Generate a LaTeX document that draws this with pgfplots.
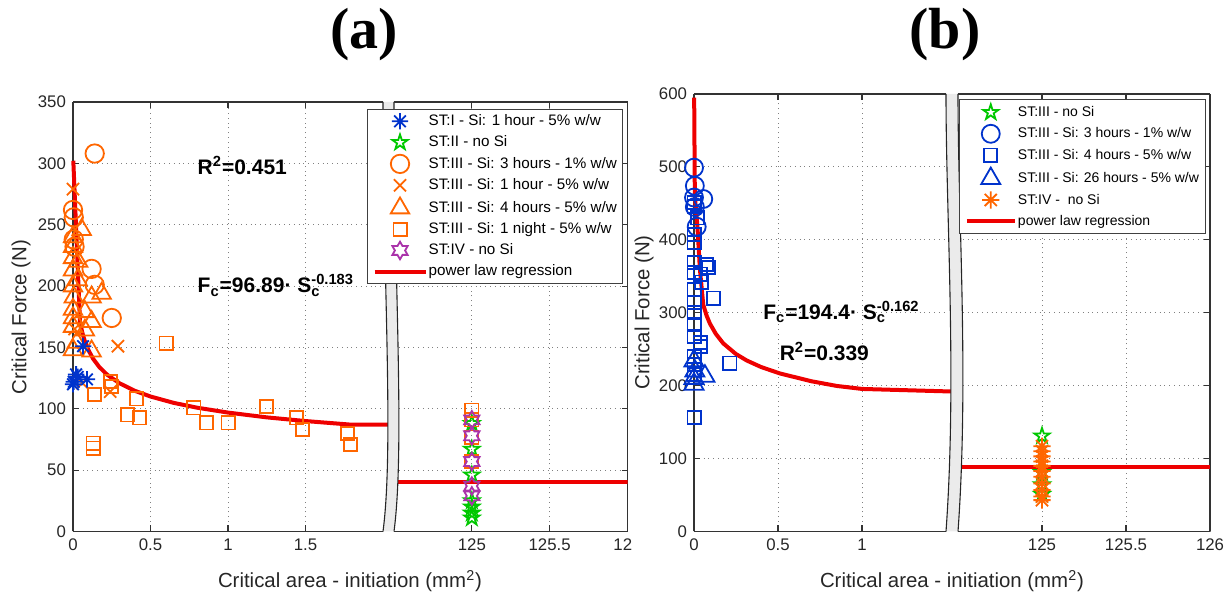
\documentclass[border=0pt]{standalone}
\usepackage{fontspec}
\setmainfont{Liberation Sans}
\newfontfamily\timesf{Liberation Serif}
\usepackage{pgfplots}
\pgfplotsset{compat=1.18}

\definecolor{mblue}{RGB}{0,51,204}
\definecolor{morange}{RGB}{255,102,0}
\definecolor{mgreen}{RGB}{0,200,0}
\definecolor{mpurple}{RGB}{170,51,170}
\definecolor{mred}{RGB}{238,0,0}

\pgfdeclareplotmark{mast}{%
 \pgfpathmoveto{\pgfqpoint{-\pgfplotmarksize}{0pt}}\pgfpathlineto{\pgfqpoint{\pgfplotmarksize}{0pt}}%
 \pgfpathmoveto{\pgfqpoint{0pt}{-\pgfplotmarksize}}\pgfpathlineto{\pgfqpoint{0pt}{\pgfplotmarksize}}%
 \pgfpathmoveto{\pgfqpointpolar{45}{\pgfplotmarksize}}\pgfpathlineto{\pgfqpointpolar{225}{\pgfplotmarksize}}%
 \pgfpathmoveto{\pgfqpointpolar{135}{\pgfplotmarksize}}\pgfpathlineto{\pgfqpointpolar{315}{\pgfplotmarksize}}%
 \pgfusepathqstroke}
\pgfdeclareplotmark{pent}{%
 \pgfpathmoveto{\pgfqpointpolar{90}{\pgfplotmarksize}}%
 \pgfpathlineto{\pgfqpointpolar{126}{.382\pgfplotmarksize}}%
 \pgfpathlineto{\pgfqpointpolar{162}{\pgfplotmarksize}}%
 \pgfpathlineto{\pgfqpointpolar{198}{.382\pgfplotmarksize}}%
 \pgfpathlineto{\pgfqpointpolar{234}{\pgfplotmarksize}}%
 \pgfpathlineto{\pgfqpointpolar{270}{.382\pgfplotmarksize}}%
 \pgfpathlineto{\pgfqpointpolar{306}{\pgfplotmarksize}}%
 \pgfpathlineto{\pgfqpointpolar{342}{.382\pgfplotmarksize}}%
 \pgfpathlineto{\pgfqpointpolar{18}{\pgfplotmarksize}}%
 \pgfpathlineto{\pgfqpointpolar{54}{.382\pgfplotmarksize}}%
 \pgfpathclose\pgfusepathqstroke}
\pgfdeclareplotmark{hexa}{%
 \pgfpathmoveto{\pgfqpointpolar{90}{\pgfplotmarksize}}%
 \pgfpathlineto{\pgfqpointpolar{120}{.577\pgfplotmarksize}}%
 \pgfpathlineto{\pgfqpointpolar{150}{\pgfplotmarksize}}%
 \pgfpathlineto{\pgfqpointpolar{180}{.577\pgfplotmarksize}}%
 \pgfpathlineto{\pgfqpointpolar{210}{\pgfplotmarksize}}%
 \pgfpathlineto{\pgfqpointpolar{240}{.577\pgfplotmarksize}}%
 \pgfpathlineto{\pgfqpointpolar{270}{\pgfplotmarksize}}%
 \pgfpathlineto{\pgfqpointpolar{300}{.577\pgfplotmarksize}}%
 \pgfpathlineto{\pgfqpointpolar{330}{\pgfplotmarksize}}%
 \pgfpathlineto{\pgfqpointpolar{0}{.577\pgfplotmarksize}}%
 \pgfpathlineto{\pgfqpointpolar{30}{\pgfplotmarksize}}%
 \pgfpathlineto{\pgfqpointpolar{60}{.577\pgfplotmarksize}}%
 \pgfpathclose\pgfusepathqstroke}

\tikzset{annot/.style={font=\fontsize{10.5}{12}\selectfont\bfseries, anchor=base west, inner sep=0pt}}
\pgfplotsset{
  base/.style={scale only axis, anchor=south west, grid=major,
    major grid style={dotted, black!50, line width=0.45pt},
    axis line style={black!80, line width=0.55pt},
    every tick/.style={black!80, line width=0.55pt},
    major tick length=3pt, tick align=inside,
    tick label style={font=\fontsize{8.4}{10}\selectfont, text=black!85},
    /pgf/number format/assume math mode=true,
    axis x line*=box},
  mk/.style={only marks, mark options={solid, line width=0.9pt}},
  sI/.style={mk, mark=mast, mark size=4.1pt, color=mblue},
  sII/.style={mk, mark=pent, mark size=4pt, color=mgreen},
  sC/.style={mk, mark=o, mark size=4.6pt, color=morange},
  sX/.style={mk, mark=x, mark size=4.3pt, color=morange},
  sT/.style={mk, mark=triangle, mark size=5.3pt, color=morange},
  sS/.style={mk, mark=square, mark size=3.3pt, color=morange},
  sIV/.style={mk, mark=hexa, mark size=4.4pt, color=mpurple},
  bC/.style={mk, mark=o, mark size=4.5pt, color=mblue},
  bS/.style={mk, mark=square, mark size=3.3pt, color=mblue},
  bT/.style={mk, mark=triangle, mark size=5.5pt, color=mblue},
  bIV/.style={mk, mark=mast, mark size=4.3pt, color=morange},
  reg/.style={mred, line width=2pt, no marks},
}

\begin{document}
\begin{tikzpicture}
\useasboundingbox (0pt,0pt) rectangle (615.5pt,299pt);

% ---------- panel (a), left part ----------
\begin{axis}[base, at={(36.5pt,33.25pt)}, width=155pt, height=214.75pt,
  xmin=0, xmax=2, ymin=0, ymax=350,
  xtick={0,0.5,1,1.5}, ytick={0,50,...,350},
  axis y line*=left, ytick pos=left, clip=false]
\addplot[sC] coordinates {(0.14,308)(0.0,262)(0.005,256)(0.005,238)(0.01,232)(0.12,214)(0.14,201)(0.25,174)};
\addplot[sX] coordinates {(0.0,279)(0.01,165)(0.06,121)(0.24,114)(0.29,151)};
\addplot[sT] coordinates {(0.056,246)(0.0,240)(0.0,232)(0.0,223)(0.0,213)(0.034,220)(0.03,205)(0.0,200)(0.005,191)(0.12,191)(0.185,194)(0.0,181)(0.077,179)(0.0,174)(0.12,171)(0.0,167)(0.077,164)(0.024,154)(0.0,148)(0.12,147)};
\addplot[sS] coordinates {(0.24,122)(0.25,118)(0.14,111.5)(0.13,72)(0.13,68)(0.35,95)(0.41,108)(0.43,92.5)(0.6,153.6)(0.78,100.7)(0.86,88.5)(1.0,88.5)(1.25,102)(1.44,92.5)(1.48,83)(1.77,80)(1.79,71)};
\addplot[sI] coordinates {(0.0,120)(0.005,122)(0.02,128)(0.03,126)(0.09,124)(0.065,151)};
\addplot[reg] coordinates {(0.002,302.1)(0.045,170.9)(0.06,162.1)(0.075,155.6)(0.1,147.7)(0.13,140.7)(0.17,134.0)(0.22,127.8)(0.3,120.8)(0.4,114.6)(0.5,110.0)(0.65,104.8)(0.8,100.9)(1.0,96.9)(1.25,93.0)(1.5,90.0)(1.79,87.1)(2.05,87.0)};
\node[annot] at (axis cs:0.802,290.6) {R\textsuperscript{2}=0.451};
\node[annot] at (axis cs:0.802,194.5) {F\textsubscript{c}=96.89· S\rlap{\textsubscript{c}}\textsuperscript{-0.183}};
\end{axis}

% ---------- panel (a), right part ----------
\begin{axis}[base, at={(197pt,33.25pt)}, width=116.75pt, height=214.75pt,
  xmin=124.5, xmax=126, ymin=0, ymax=350,
  xtick={125,125.5,126}, xticklabels={125,125.5,12\phantom{6}}, ytick={0,50,...,350},
  axis y line*=right, ytick pos=right, yticklabels={}]
\addplot[sII] coordinates {(125,11)(125,15)(125,20)(125,25)(125,46)(125,67)(125,88)};
\addplot[sS] coordinates {(125,99)(125,91)(125,77)(125,57)};
\addplot[sIV] coordinates {(125,91)(125,78)(125,57)(125,37)(125,29)};
\addplot[reg] coordinates {(124.5,40.05)(126,40.05)};
\end{axis}

% ---------- panel (b), left part ----------
\begin{axis}[base, at={(347pt,33.25pt)}, width=126pt, height=218.75pt,
  xmin=0, xmax=1.5, ymin=0, ymax=600,
  xtick={0,0.5,1}, ytick={0,100,...,600},
  axis y line*=left, ytick pos=left, clip=false]
\addplot[bC] coordinates {(0.0,499)(0.005,474)(0.0,458)(0.055,456)(0.016,418)(0.005,445)};
\addplot[bS] coordinates {(0.0,451)(0.0,446)(0.02,430)(0.0,407)(0.0,396)(0.0,369)(0.075,366)(0.085,362)(0.0,355)(0.036,353)(0.046,342)(0.115,320)(0.0,332)(0.0,314)(0.0,300)(0.0,284)(0.0,268)(0.036,259)(0.036,254)(0.0,240)(0.214,231)(0.0,229)(0.0,215)(0.0,156)};
\addplot[bT] coordinates {(0.0,234)(0.005,220)(0.065,213)(0.0,210)(0.0,202)};
\addplot[reg] coordinates {(0.001,595)(0.005,459)(0.02,420)(0.035,360)(0.055,311)(0.075,296)(0.095,285)(0.13,271)(0.174,258)(0.25,243.3)(0.314,234.5)(0.4,225.5)(0.512,216.7)(0.7,206.0)(0.85,199.6)(1.0,195.5)(1.53,192)};
\node[annot] at (axis cs:0.41,291) {F\textsubscript{c}=194.4· S\rlap{\textsubscript{c}}\textsuperscript{-0.162}};
\node[annot] at (axis cs:0.508,234) {R\textsuperscript{2}=0.339};
\end{axis}

% ---------- panel (b), right part ----------
\begin{axis}[base, at={(479pt,33.25pt)}, width=126pt, height=218.75pt,
  xmin=124.5, xmax=126, ymin=0, ymax=600,
  xtick={125,125.5,126}, xticklabels={125,125.5,126}, ytick={0,100,...,600},
  axis y line*=right, ytick pos=right, yticklabels={}]
\addplot[sII] coordinates {(125,131)(125,81)(125,64)(125,51)};
\addplot[bIV] coordinates {(125,117)(125,110)(125,103)(125,96)(125,90)(125,83)(125,75)(125,66)(125,57)(125,48)(125,43)};
\addplot[reg] coordinates {(124.5,88.9)(126,88.9)};
\end{axis}

% ---------- axis breaks ----------
\begin{scope}[x=1pt,y=1pt]
\fill[black!8] (191.5,248) .. controls (191.5,160) and (197,75) .. (191.5,33.25) -- (197,33.25) .. controls (202.5,75) and (197,160) .. (197,248) -- cycle;
\draw[black!85, line width=0.55pt] (191.5,248) .. controls (191.5,160) and (197,75) .. (191.5,33.25);
\draw[black!85, line width=0.55pt] (197,248) .. controls (197,160) and (202.5,75) .. (197,33.25);
\fill[black!8] (473,252) .. controls (473,190) and (478.5,110) .. (473,33.25) -- (479,33.25) .. controls (484.5,110) and (479,190) .. (479,252) -- cycle;
\draw[black!85, line width=0.55pt] (473,252) .. controls (473,190) and (478.5,110) .. (473,33.25);
\draw[black!85, line width=0.55pt] (479,252) .. controls (479,190) and (484.5,110) .. (479,33.25);
\end{scope}

% ---------- legends ----------
\begin{axis}[at={(197pt,33.25pt)}, anchor=south west, scale only axis, width=116.75pt, height=214.75pt,
  hide axis, xmin=0, xmax=1, ymin=0, ymax=1,
  legend image code/.code={\draw[mark repeat=2,mark phase=2,#1] plot coordinates {(0pt,0pt)(12.75pt,0pt)(25.5pt,0pt)};},
  legend cell align=left,
  legend style={at={(-0.1156,0.9837)}, anchor=north west, draw=black!75, line width=0.5pt, fill=white,
    font=\fontsize{7.6}{9}\selectfont, inner xsep=2.5pt, inner ysep=1.4pt, row sep=1.6pt,
    nodes={inner sep=0.6pt, text height=6pt, text depth=1.8pt}}]
\addlegendimage{sI}\addlegendentry{ST:I - Si: 1 hour - 5\% w/w}
\addlegendimage{sII}\addlegendentry{ST:II - no Si}
\addlegendimage{sC}\addlegendentry{ST:III - Si: 3 hours - 1\% w/w}
\addlegendimage{sX}\addlegendentry{ST:III - Si: 1 hour - 5\% w/w}
\addlegendimage{sT}\addlegendentry{ST:III - Si: 4 hours - 5\% w/w}
\addlegendimage{sS}\addlegendentry{ST:III - Si: 1 night - 5\% w/w}
\addlegendimage{sIV}\addlegendentry{ST:IV - no Si}
\addlegendimage{reg}\addlegendentry{power law regression}
\end{axis}

\begin{axis}[at={(479pt,33.25pt)}, anchor=south west, scale only axis, width=126pt, height=218.75pt,
  hide axis, xmin=0, xmax=1, ymin=0, ymax=1,
  legend image code/.code={\draw[mark repeat=2,mark phase=2,#1] plot coordinates {(0pt,0pt)(12pt,0pt)(24pt,0pt)};},
  legend cell align=left,
  legend style={at={(0.005,0.9879)}, anchor=north west, draw=black!75, line width=0.5pt, fill=white,
    font=\fontsize{7.0}{9}\selectfont, inner xsep=2.5pt, inner ysep=1.8pt, row sep=1.7pt,
    nodes={inner sep=0.6pt, text height=6pt, text depth=1.8pt}}]
\addlegendimage{sII}\addlegendentry{ST:III - no Si}
\addlegendimage{bC}\addlegendentry{ST:III - Si: 3 hours - 1\% w/w}
\addlegendimage{bS}\addlegendentry{ST:III - Si: 4 hours - 5\% w/w}
\addlegendimage{bT}\addlegendentry{ST:III - Si: 26 hours - 5\% w/w}
\addlegendimage{bIV}\addlegendentry{ST:IV -\ \ no Si}
\addlegendimage{reg}\addlegendentry{power law regression}
\end{axis}

% ---------- labels and titles ----------
\node[font=\fontsize{10.2}{12}\selectfont, text=black!85] at (175pt,8.5pt) {Critical area - initiation (mm\textsuperscript{2})};
\node[font=\fontsize{10.2}{12}\selectfont, text=black!85] at (476pt,8.5pt) {Critical area - initiation (mm\textsuperscript{2})};
\node[font=\fontsize{10.2}{12}\selectfont, text=black!85, rotate=90] at (10.5pt,140.5pt) {Critical Force (N)};
\node[font=\fontsize{10.2}{12}\selectfont, text=black!85, rotate=90] at (322pt,142.75pt) {Critical Force (N)};
\node[font=\timesf\bfseries\fontsize{29}{30}\selectfont] at (182pt,281.5pt) {(a)};
\node[font=\timesf\bfseries\fontsize{29}{30}\selectfont] at (472.5pt,281.5pt) {(b)};
\end{tikzpicture}
\end{document}
